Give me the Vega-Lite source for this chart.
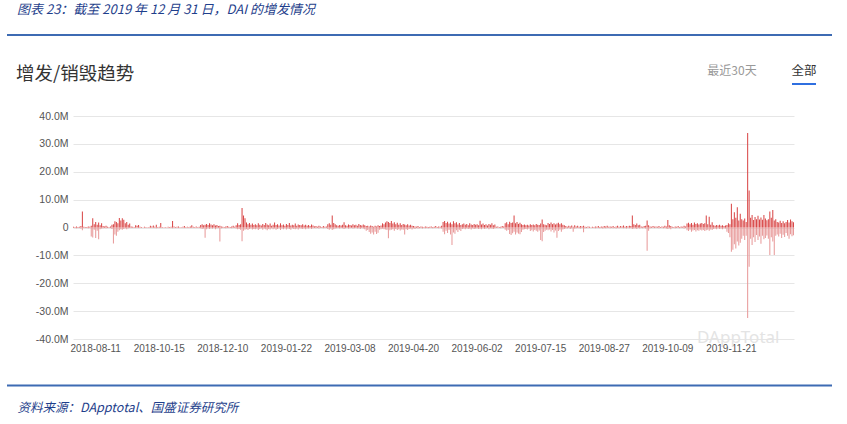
{
  "$schema": "https://vega.github.io/schema/vega-lite/v6.json",
  "autosize": {"type": "none"},
  "width": 721,
  "height": 223,
  "padding": {"left": 73, "top": 116, "right": 53, "bottom": 85},
  "background": "#ffffff",
  "config": {"view": {"stroke": null}},
  "datasets": {
    "dai": [
      {"d":"2018-07-20","m":0.3,"b":-0.2},{"d":"2018-07-22","m":0.2,"b":-0.1},{"d":"2018-07-23","m":0.4,"b":-0.3},{"d":"2018-07-25","m":0.2,"b":-0.2},{"d":"2018-07-26","m":0.3,"b":-0.1},{"d":"2018-07-27","m":0.5,"b":-0.4},{"d":"2018-07-29","m":5.7,"b":-1.0},{"d":"2018-07-30","m":0.3,"b":-0.2},{"d":"2018-07-31","m":0.2,"b":-0.1},{"d":"2018-08-01","m":0.2,"b":-0.2},{"d":"2018-08-03","m":0.4,"b":-0.3},{"d":"2018-08-05","m":0.3,"b":-0.1},{"d":"2018-08-07","m":0.6,"b":-3.2},{"d":"2018-08-08","m":3.3,"b":-3.6},{"d":"2018-08-09","m":1.2,"b":-0.8},
      {"d":"2018-08-11","m":2.0,"b":-3.8},{"d":"2018-08-12","m":1.0,"b":-1.2},{"d":"2018-08-13","m":1.8,"b":-4.2},{"d":"2018-08-15","m":0.8,"b":-0.6},{"d":"2018-08-16","m":1.5,"b":-0.4},{"d":"2018-08-18","m":0.5,"b":-0.3},{"d":"2018-08-19","m":0.4,"b":-0.2},{"d":"2018-08-21","m":0.6,"b":-0.3},{"d":"2018-08-22","m":0.3,"b":-0.2},{"d":"2018-08-24","m":0.2,"b":-0.1},{"d":"2018-08-25","m":0.4,"b":-0.2},{"d":"2018-08-27","m":1.0,"b":-0.5},{"d":"2018-08-28","m":1.2,"b":-5.7},{"d":"2018-08-30","m":2.2,"b":-2.5},
      {"d":"2018-09-01","m":2.0,"b":-3.0},{"d":"2018-09-02","m":1.5,"b":-1.5},{"d":"2018-09-04","m":3.4,"b":-1.0},{"d":"2018-09-05","m":2.5,"b":-0.6},{"d":"2018-09-07","m":3.3,"b":-0.8},{"d":"2018-09-08","m":2.8,"b":-0.5},{"d":"2018-09-10","m":1.5,"b":-0.3},{"d":"2018-09-11","m":2.0,"b":-0.6},{"d":"2018-09-13","m":1.0,"b":-0.3},{"d":"2018-09-14","m":1.4,"b":-0.2},{"d":"2018-09-16","m":0.4,"b":-0.2},{"d":"2018-09-17","m":0.3,"b":-0.1},{"d":"2018-09-19","m":0.2,"b":-0.1},{"d":"2018-09-20","m":0.8,"b":-0.2},{"d":"2018-09-22","m":0.6,"b":-0.1},{"d":"2018-09-23","m":0.9,"b":-0.2},{"d":"2018-09-25","m":0.3,"b":-0.1},{"d":"2018-09-26","m":0.2,"b":-0.1},{"d":"2018-09-28","m":0.1,"b":0},{"d":"2018-09-29","m":0.3,"b":-0.1},
      {"d":"2018-10-01","m":0.2,"b":-0.1},{"d":"2018-10-02","m":0.1,"b":0},{"d":"2018-10-04","m":0.2,"b":-0.1},{"d":"2018-10-05","m":0.6,"b":-0.2},{"d":"2018-10-07","m":0.4,"b":-0.1},{"d":"2018-10-08","m":0.7,"b":-0.2},{"d":"2018-10-10","m":0.3,"b":-0.1},{"d":"2018-10-11","m":1.0,"b":-0.3},{"d":"2018-10-13","m":0.2,"b":-0.1},
      {"d":"2018-10-15","m":0.3,"b":-0.1},{"d":"2018-10-16","m":1.6,"b":-0.2},{"d":"2018-10-17","m":0.2,"b":-0.1},{"d":"2018-10-18","m":0.1,"b":0},{"d":"2018-10-19","m":0.2,"b":-0.1},{"d":"2018-10-20","m":0.1,"b":0},{"d":"2018-10-22","m":0.3,"b":-0.1},{"d":"2018-10-23","m":0.2,"b":-0.1},{"d":"2018-10-24","m":0.3,"b":-0.1},{"d":"2018-10-25","m":2.3,"b":-0.3},{"d":"2018-10-26","m":0.4,"b":-0.1},{"d":"2018-10-28","m":0.2,"b":-0.1},{"d":"2018-10-29","m":0.3,"b":-0.1},{"d":"2018-10-30","m":0.4,"b":-0.2},
      {"d":"2018-11-01","m":0.2,"b":0},{"d":"2018-11-02","m":0.1,"b":-0.1},{"d":"2018-11-03","m":0.3,"b":-0.1},{"d":"2018-11-05","m":0.5,"b":-0.2},{"d":"2018-11-06","m":0.2,"b":-0.1},{"d":"2018-11-07","m":0.3,"b":0},{"d":"2018-11-08","m":0.2,"b":-0.1},{"d":"2018-11-09","m":0.4,"b":-0.2},{"d":"2018-11-11","m":0.8,"b":-0.2},{"d":"2018-11-12","m":0.3,"b":-0.1},{"d":"2018-11-13","m":0.2,"b":-0.1},{"d":"2018-11-15","m":0.4,"b":-0.1},{"d":"2018-11-16","m":0.2,"b":0},{"d":"2018-11-17","m":0.3,"b":-0.2},{"d":"2018-11-19","m":0.9,"b":-0.3},{"d":"2018-11-20","m":1.2,"b":-0.5},{"d":"2018-11-21","m":0.8,"b":-0.4},{"d":"2018-11-23","m":1.0,"b":-3.7},{"d":"2018-11-24","m":1.3,"b":-0.6},{"d":"2018-11-25","m":0.9,"b":-0.3},{"d":"2018-11-27","m":1.5,"b":-0.5},{"d":"2018-11-28","m":1.1,"b":-0.3},{"d":"2018-11-29","m":0.8,"b":-0.4},
      {"d":"2018-12-01","m":1.2,"b":-0.2},{"d":"2018-12-03","m":0.7,"b":-0.6},{"d":"2018-12-04","m":0.9,"b":-0.3},{"d":"2018-12-06","m":0.5,"b":-0.2},{"d":"2018-12-07","m":0.6,"b":-5.0},{"d":"2018-12-08","m":0.4,"b":-0.3},
      {"d":"2018-12-10","m":0.3,"b":-0.2},{"d":"2018-12-11","m":0.2,"b":-0.1},{"d":"2018-12-12","m":0.4,"b":-0.3},{"d":"2018-12-13","m":0.5,"b":-0.2},{"d":"2018-12-14","m":0.3,"b":-0.1},{"d":"2018-12-15","m":0.2,"b":-0.2},{"d":"2018-12-16","m":0.4,"b":-0.3},{"d":"2018-12-17","m":0.6,"b":-0.2},{"d":"2018-12-18","m":0.3,"b":-0.1},{"d":"2018-12-19","m":0.8,"b":-0.4},{"d":"2018-12-20","m":1.5,"b":-0.6},{"d":"2018-12-21","m":0.9,"b":-0.5},{"d":"2018-12-22","m":1.2,"b":-0.8},{"d":"2018-12-23","m":7.0,"b":-4.9},{"d":"2018-12-24","m":4.3,"b":-1.2},{"d":"2018-12-25","m":3.3,"b":-0.8},{"d":"2018-12-26","m":1.8,"b":-0.6},{"d":"2018-12-27","m":1.2,"b":-0.9},{"d":"2018-12-28","m":1.6,"b":-0.5},{"d":"2018-12-29","m":1.0,"b":-0.4},{"d":"2018-12-30","m":1.4,"b":-0.7},{"d":"2018-12-31","m":0.9,"b":-0.5},
      {"d":"2019-01-01","m":1.2,"b":-0.6},{"d":"2019-01-02","m":0.8,"b":-0.4},{"d":"2019-01-03","m":1.5,"b":-0.9},{"d":"2019-01-04","m":1.0,"b":-0.5},{"d":"2019-01-05","m":0.7,"b":-0.3},{"d":"2019-01-06","m":1.3,"b":-0.8},{"d":"2019-01-07","m":0.9,"b":-0.4},{"d":"2019-01-08","m":1.6,"b":-0.6},{"d":"2019-01-09","m":1.1,"b":-1.0},{"d":"2019-01-10","m":0.8,"b":-0.5},{"d":"2019-01-11","m":1.4,"b":-0.7},{"d":"2019-01-12","m":0.6,"b":-0.3},{"d":"2019-01-13","m":1.0,"b":-0.6},{"d":"2019-01-14","m":1.8,"b":-0.4},{"d":"2019-01-15","m":0.9,"b":-0.8},{"d":"2019-01-16","m":1.2,"b":-0.5},{"d":"2019-01-17","m":0.7,"b":-0.3},{"d":"2019-01-18","m":1.5,"b":-0.9},{"d":"2019-01-19","m":0.8,"b":-0.4},{"d":"2019-01-20","m":1.1,"b":-0.6},{"d":"2019-01-21","m":0.6,"b":-0.3},
      {"d":"2019-01-22","m":1.3,"b":-0.7},{"d":"2019-01-23","m":0.9,"b":-0.4},{"d":"2019-01-24","m":1.6,"b":-0.5},{"d":"2019-01-25","m":0.7,"b":-0.8},{"d":"2019-01-26","m":1.0,"b":-0.3},{"d":"2019-01-27","m":0.8,"b":-0.5},{"d":"2019-01-28","m":1.4,"b":-0.6},{"d":"2019-01-29","m":0.6,"b":-0.4},{"d":"2019-01-30","m":1.1,"b":-0.7},{"d":"2019-01-31","m":0.9,"b":-0.3},
      {"d":"2019-02-01","m":0.8,"b":-0.4},{"d":"2019-02-02","m":1.2,"b":-0.5},{"d":"2019-02-03","m":0.7,"b":-0.3},{"d":"2019-02-04","m":1.0,"b":-0.6},{"d":"2019-02-05","m":0.6,"b":-0.3},{"d":"2019-02-06","m":0.9,"b":-0.4},{"d":"2019-02-07","m":0.5,"b":-0.2},{"d":"2019-02-08","m":1.1,"b":-0.5},{"d":"2019-02-09","m":0.7,"b":-0.3},{"d":"2019-02-11","m":0.4,"b":-0.2},{"d":"2019-02-12","m":0.5,"b":-0.3},{"d":"2019-02-13","m":0.3,"b":-0.2},{"d":"2019-02-14","m":0.6,"b":-0.4},{"d":"2019-02-15","m":0.4,"b":-0.1},{"d":"2019-02-16","m":0.2,"b":-0.2},{"d":"2019-02-17","m":0.5,"b":-0.3},{"d":"2019-02-18","m":0.3,"b":-0.1},{"d":"2019-02-19","m":0.4,"b":-0.2},{"d":"2019-02-20","m":1.2,"b":-0.5},{"d":"2019-02-21","m":1.5,"b":-0.8},{"d":"2019-02-22","m":1.0,"b":-0.4},{"d":"2019-02-23","m":4.3,"b":-0.9},{"d":"2019-02-25","m":1.6,"b":-0.6},{"d":"2019-02-26","m":1.2,"b":-0.4},{"d":"2019-02-27","m":0.8,"b":-0.3},{"d":"2019-02-28","m":0.6,"b":-0.2},
      {"d":"2019-03-01","m":0.9,"b":-0.4},{"d":"2019-03-02","m":0.7,"b":-0.2},{"d":"2019-03-03","m":1.0,"b":-0.3},{"d":"2019-03-04","m":1.9,"b":-0.5},{"d":"2019-03-05","m":0.8,"b":-0.3},{"d":"2019-03-06","m":0.6,"b":-0.2},{"d":"2019-03-07","m":1.1,"b":-0.4},{"d":"2019-03-08","m":0.9,"b":-0.3},{"d":"2019-03-09","m":0.7,"b":-0.2},{"d":"2019-03-10","m":1.2,"b":-0.4},{"d":"2019-03-11","m":0.8,"b":-0.3},{"d":"2019-03-12","m":1.0,"b":-0.2},{"d":"2019-03-13","m":0.6,"b":-0.4},{"d":"2019-03-14","m":1.3,"b":-0.3},{"d":"2019-03-15","m":0.9,"b":-0.5},{"d":"2019-03-16","m":0.7,"b":-0.2},{"d":"2019-03-17","m":1.1,"b":-0.4},{"d":"2019-03-18","m":0.8,"b":-0.6},{"d":"2019-03-19","m":0.5,"b":-1.2},{"d":"2019-03-20","m":0.6,"b":-0.9},{"d":"2019-03-21","m":0.4,"b":-1.6},{"d":"2019-03-22","m":0.7,"b":-2.2},{"d":"2019-03-23","m":0.5,"b":-1.8},{"d":"2019-03-24","m":0.3,"b":-2.5},{"d":"2019-03-25","m":0.6,"b":-1.5},{"d":"2019-03-26","m":0.4,"b":-2.3},{"d":"2019-03-27","m":0.8,"b":-1.9},{"d":"2019-03-28","m":0.5,"b":-0.8},{"d":"2019-03-29","m":0.7,"b":-0.6},{"d":"2019-03-30","m":1.5,"b":-0.4},{"d":"2019-03-31","m":1.2,"b":-0.6},
      {"d":"2019-04-01","m":1.8,"b":-0.7},{"d":"2019-04-02","m":2.2,"b":-0.9},{"d":"2019-04-03","m":2.0,"b":-3.9},{"d":"2019-04-04","m":1.6,"b":-1.0},{"d":"2019-04-05","m":2.3,"b":-0.8},{"d":"2019-04-06","m":1.4,"b":-0.6},{"d":"2019-04-07","m":1.9,"b":-1.2},{"d":"2019-04-08","m":1.2,"b":-0.5},{"d":"2019-04-09","m":1.7,"b":-0.9},{"d":"2019-04-10","m":1.0,"b":-0.6},{"d":"2019-04-11","m":1.5,"b":-1.1},{"d":"2019-04-12","m":0.9,"b":-0.7},{"d":"2019-04-13","m":1.3,"b":-0.8},{"d":"2019-04-14","m":1.1,"b":-2.5},{"d":"2019-04-15","m":0.8,"b":-0.6},{"d":"2019-04-16","m":1.2,"b":-0.9},{"d":"2019-04-17","m":0.7,"b":-0.5},{"d":"2019-04-18","m":1.0,"b":-0.4},{"d":"2019-04-19","m":0.6,"b":-0.7},{"d":"2019-04-20","m":0.5,"b":-0.3},{"d":"2019-04-21","m":0.4,"b":-0.5},{"d":"2019-04-22","m":0.3,"b":-0.2},{"d":"2019-04-23","m":0.5,"b":-0.4},{"d":"2019-04-24","m":0.2,"b":-0.3},{"d":"2019-04-25","m":0.4,"b":-0.2},{"d":"2019-04-26","m":0.3,"b":-0.4},{"d":"2019-04-27","m":0.2,"b":-0.1},{"d":"2019-04-28","m":0.4,"b":-0.3},{"d":"2019-04-29","m":0.3,"b":-0.2},{"d":"2019-04-30","m":0.2,"b":-0.3},
      {"d":"2019-05-01","m":0.3,"b":-0.2},{"d":"2019-05-02","m":0.4,"b":-0.1},{"d":"2019-05-03","m":0.2,"b":-0.3},{"d":"2019-05-04","m":0.3,"b":-0.2},{"d":"2019-05-05","m":0.5,"b":-0.1},{"d":"2019-05-06","m":0.2,"b":-0.2},{"d":"2019-05-07","m":0.4,"b":-0.3},{"d":"2019-05-08","m":0.3,"b":-0.1},{"d":"2019-05-09","m":0.6,"b":-0.4},{"d":"2019-05-10","m":2.0,"b":-1.5},{"d":"2019-05-11","m":2.3,"b":-2.4},{"d":"2019-05-12","m":1.6,"b":-1.2},{"d":"2019-05-13","m":2.1,"b":-2.0},{"d":"2019-05-14","m":1.4,"b":-0.9},{"d":"2019-05-15","m":1.8,"b":-2.5},{"d":"2019-05-16","m":1.2,"b":-6.3},{"d":"2019-05-17","m":2.2,"b":-1.8},{"d":"2019-05-18","m":1.5,"b":-2.2},{"d":"2019-05-19","m":1.9,"b":-1.0},{"d":"2019-05-20","m":1.1,"b":-1.6},{"d":"2019-05-21","m":1.6,"b":-0.8},{"d":"2019-05-22","m":0.9,"b":-1.3},{"d":"2019-05-23","m":1.2,"b":-0.5},{"d":"2019-05-24","m":1.4,"b":-0.4},{"d":"2019-05-25","m":1.0,"b":-0.6},{"d":"2019-05-26","m":1.3,"b":-0.3},{"d":"2019-05-27","m":0.8,"b":-0.5},{"d":"2019-05-28","m":1.5,"b":-0.4},{"d":"2019-05-29","m":1.1,"b":-0.7},{"d":"2019-05-30","m":0.9,"b":-0.3},{"d":"2019-05-31","m":1.3,"b":-0.5},
      {"d":"2019-06-01","m":1.0,"b":-0.4},{"d":"2019-06-02","m":1.2,"b":-0.3},{"d":"2019-06-03","m":0.8,"b":-0.5},{"d":"2019-06-04","m":2.4,"b":-0.4},{"d":"2019-06-05","m":1.1,"b":-0.6},{"d":"2019-06-06","m":1.4,"b":-0.3},{"d":"2019-06-07","m":0.9,"b":-0.5},{"d":"2019-06-08","m":1.2,"b":-0.4},{"d":"2019-06-09","m":0.7,"b":-0.2},{"d":"2019-06-10","m":1.3,"b":-0.6},{"d":"2019-06-11","m":1.0,"b":-0.3},{"d":"2019-06-12","m":1.5,"b":-0.4},{"d":"2019-06-13","m":0.8,"b":-0.5},{"d":"2019-06-14","m":1.1,"b":-0.3},{"d":"2019-06-15","m":0.3,"b":-0.2},{"d":"2019-06-16","m":0.4,"b":-0.1},{"d":"2019-06-17","m":0.2,"b":-0.2},{"d":"2019-06-18","m":0.3,"b":-0.3},{"d":"2019-06-19","m":0.5,"b":-0.1},{"d":"2019-06-20","m":0.4,"b":-0.2},{"d":"2019-06-21","m":1.5,"b":-0.8},{"d":"2019-06-22","m":1.9,"b":-1.2},{"d":"2019-06-23","m":1.2,"b":-0.9},{"d":"2019-06-24","m":2.1,"b":-2.3},{"d":"2019-06-25","m":1.6,"b":-2.7},{"d":"2019-06-26","m":1.8,"b":-2.1},{"d":"2019-06-27","m":4.3,"b":-1.5},{"d":"2019-06-28","m":1.5,"b":-2.5},{"d":"2019-06-29","m":2.0,"b":-1.8},{"d":"2019-06-30","m":1.3,"b":-2.2},
      {"d":"2019-07-01","m":1.7,"b":-2.4},{"d":"2019-07-02","m":1.2,"b":-1.6},{"d":"2019-07-03","m":0.9,"b":-0.8},{"d":"2019-07-04","m":1.1,"b":-0.6},{"d":"2019-07-05","m":0.8,"b":-0.5},{"d":"2019-07-06","m":1.0,"b":-0.7},{"d":"2019-07-07","m":0.7,"b":-0.4},{"d":"2019-07-08","m":1.2,"b":-1.3},{"d":"2019-07-09","m":0.9,"b":-1.0},{"d":"2019-07-10","m":1.1,"b":-1.4},{"d":"2019-07-11","m":0.8,"b":-0.9},{"d":"2019-07-12","m":1.3,"b":-1.2},{"d":"2019-07-13","m":1.0,"b":-1.5},{"d":"2019-07-14","m":0.9,"b":-1.1},{"d":"2019-07-15","m":1.4,"b":-4.5},{"d":"2019-07-16","m":2.9,"b":-4.9},{"d":"2019-07-17","m":1.2,"b":-1.6},{"d":"2019-07-18","m":1.0,"b":-1.2},{"d":"2019-07-19","m":0.8,"b":-0.8},{"d":"2019-07-20","m":1.6,"b":-1.0},{"d":"2019-07-21","m":1.3,"b":-0.7},{"d":"2019-07-22","m":1.8,"b":-1.4},{"d":"2019-07-23","m":1.2,"b":-0.9},{"d":"2019-07-24","m":1.5,"b":-1.8},{"d":"2019-07-25","m":1.1,"b":-1.1},{"d":"2019-07-26","m":1.4,"b":-3.7},{"d":"2019-07-27","m":1.7,"b":-1.3},{"d":"2019-07-28","m":1.2,"b":-0.8},{"d":"2019-07-29","m":1.5,"b":-1.5},{"d":"2019-07-30","m":1.0,"b":-0.7},{"d":"2019-07-31","m":0.8,"b":-0.5},
      {"d":"2019-08-01","m":0.5,"b":-0.3},{"d":"2019-08-02","m":0.3,"b":-0.4},{"d":"2019-08-03","m":0.6,"b":-0.2},{"d":"2019-08-04","m":0.4,"b":-0.5},{"d":"2019-08-05","m":0.7,"b":-0.3},{"d":"2019-08-06","m":0.3,"b":-1.5},{"d":"2019-08-07","m":0.8,"b":-0.4},{"d":"2019-08-08","m":0.4,"b":-0.3},{"d":"2019-08-09","m":0.6,"b":-0.2},{"d":"2019-08-10","m":0.3,"b":-0.3},{"d":"2019-08-11","m":0.5,"b":-0.4},{"d":"2019-08-12","m":0.4,"b":-0.2},{"d":"2019-08-13","m":0.6,"b":-1.7},{"d":"2019-08-14","m":0.3,"b":-0.3},{"d":"2019-08-15","m":0.2,"b":-0.2},{"d":"2019-08-16","m":0.4,"b":-0.1},{"d":"2019-08-17","m":0.3,"b":-0.2},{"d":"2019-08-18","m":0.1,"b":-0.1},{"d":"2019-08-19","m":0.3,"b":-0.2},{"d":"2019-08-20","m":0.2,"b":-0.1},{"d":"2019-08-21","m":0.4,"b":-0.3},{"d":"2019-08-22","m":0.3,"b":-0.1},{"d":"2019-08-23","m":0.5,"b":-0.2},{"d":"2019-08-24","m":0.2,"b":-0.3},{"d":"2019-08-25","m":0.4,"b":-0.2},{"d":"2019-08-26","m":0.3,"b":-0.4},{"d":"2019-08-27","m":0.5,"b":-0.2},{"d":"2019-08-28","m":0.4,"b":-0.3},{"d":"2019-08-29","m":0.6,"b":-0.2},{"d":"2019-08-30","m":0.3,"b":-0.1},{"d":"2019-08-31","m":0.4,"b":-0.3},
      {"d":"2019-09-01","m":0.3,"b":-0.2},{"d":"2019-09-02","m":0.5,"b":-0.3},{"d":"2019-09-03","m":0.2,"b":-0.1},{"d":"2019-09-04","m":0.4,"b":-0.4},{"d":"2019-09-05","m":0.6,"b":-0.2},{"d":"2019-09-06","m":0.3,"b":-0.3},{"d":"2019-09-07","m":0.5,"b":-0.1},{"d":"2019-09-08","m":0.4,"b":-0.2},{"d":"2019-09-09","m":0.7,"b":-0.3},{"d":"2019-09-10","m":0.3,"b":-0.2},{"d":"2019-09-11","m":0.5,"b":-0.4},{"d":"2019-09-12","m":0.4,"b":-0.1},{"d":"2019-09-13","m":0.6,"b":-0.3},{"d":"2019-09-14","m":0.5,"b":-0.2},{"d":"2019-09-15","m":4.3,"b":-0.5},{"d":"2019-09-16","m":1.2,"b":-0.4},{"d":"2019-09-17","m":0.9,"b":-0.3},{"d":"2019-09-18","m":1.4,"b":-0.5},{"d":"2019-09-19","m":0.8,"b":-0.2},{"d":"2019-09-20","m":1.0,"b":-0.4},{"d":"2019-09-21","m":0.4,"b":-0.2},{"d":"2019-09-22","m":0.3,"b":-0.3},{"d":"2019-09-23","m":0.5,"b":-0.2},{"d":"2019-09-24","m":0.6,"b":-0.4},{"d":"2019-09-25","m":2.5,"b":-8.3},{"d":"2019-09-26","m":0.8,"b":-1.2},{"d":"2019-09-27","m":0.4,"b":-0.3},{"d":"2019-09-28","m":0.3,"b":-0.2},{"d":"2019-09-29","m":0.5,"b":-0.1},{"d":"2019-09-30","m":0.3,"b":-0.2},
      {"d":"2019-10-01","m":0.4,"b":-0.2},{"d":"2019-10-02","m":0.3,"b":-0.1},{"d":"2019-10-03","m":0.5,"b":-0.3},{"d":"2019-10-04","m":0.2,"b":-0.2},{"d":"2019-10-05","m":0.4,"b":-0.1},{"d":"2019-10-06","m":0.3,"b":-0.3},{"d":"2019-10-07","m":0.6,"b":-0.2},{"d":"2019-10-08","m":0.4,"b":-0.4},{"d":"2019-10-09","m":2.7,"b":-0.5},{"d":"2019-10-10","m":0.8,"b":-0.3},{"d":"2019-10-11","m":0.5,"b":-0.6},{"d":"2019-10-12","m":0.3,"b":-0.2},{"d":"2019-10-13","m":0.2,"b":-0.1},{"d":"2019-10-14","m":0.4,"b":-0.3},{"d":"2019-10-15","m":0.3,"b":-0.2},{"d":"2019-10-16","m":0.5,"b":-0.1},{"d":"2019-10-17","m":0.2,"b":-0.3},{"d":"2019-10-18","m":0.4,"b":-0.2},{"d":"2019-10-19","m":0.3,"b":-0.1},{"d":"2019-10-20","m":0.6,"b":-0.4},{"d":"2019-10-21","m":0.4,"b":-0.2},{"d":"2019-10-22","m":1.4,"b":-1.0},{"d":"2019-10-23","m":1.7,"b":-1.3},{"d":"2019-10-24","m":1.2,"b":-0.8},{"d":"2019-10-25","m":1.6,"b":-1.5},{"d":"2019-10-26","m":1.0,"b":-1.1},{"d":"2019-10-27","m":1.8,"b":-0.9},{"d":"2019-10-28","m":1.3,"b":-1.4},{"d":"2019-10-29","m":1.5,"b":-1.0},{"d":"2019-10-30","m":1.1,"b":-1.2},{"d":"2019-10-31","m":1.4,"b":-0.8},
      {"d":"2019-11-01","m":1.6,"b":-1.1},{"d":"2019-11-02","m":1.3,"b":-0.9},{"d":"2019-11-03","m":1.5,"b":-1.3},{"d":"2019-11-04","m":4.3,"b":-1.0},{"d":"2019-11-05","m":1.2,"b":-0.8},{"d":"2019-11-06","m":3.9,"b":-1.2},{"d":"2019-11-07","m":1.0,"b":-0.7},{"d":"2019-11-08","m":1.9,"b":-0.9},{"d":"2019-11-09","m":0.8,"b":-0.5},{"d":"2019-11-10","m":0.6,"b":-0.4},{"d":"2019-11-11","m":0.9,"b":-0.6},{"d":"2019-11-12","m":0.7,"b":-0.3},{"d":"2019-11-13","m":1.0,"b":-0.5},{"d":"2019-11-14","m":0.6,"b":-0.4},{"d":"2019-11-15","m":0.8,"b":-0.6},{"d":"2019-11-16","m":0.5,"b":-0.3},{"d":"2019-11-17","m":0.7,"b":-0.4},{"d":"2019-11-18","m":0.9,"b":-1.5},{"d":"2019-11-19","m":1.5,"b":-2.0},{"d":"2019-11-20","m":1.2,"b":-3.5},{"d":"2019-11-21","m":8.5,"b":-8.7},{"d":"2019-11-22","m":3.0,"b":-8.0},{"d":"2019-11-23","m":5.5,"b":-6.0},{"d":"2019-11-24","m":3.5,"b":-7.5},{"d":"2019-11-25","m":7.3,"b":-5.0},{"d":"2019-11-26","m":2.5,"b":-6.5},{"d":"2019-11-27","m":4.9,"b":-5.5},{"d":"2019-11-28","m":3.0,"b":-4.0},{"d":"2019-11-29","m":2.5,"b":-3.0},{"d":"2019-11-30","m":3.2,"b":-4.5},
      {"d":"2019-12-01","m":2.0,"b":-3.0},{"d":"2019-12-02","m":33.9,"b":-32.5},{"d":"2019-12-03","m":13.3,"b":-14.1},{"d":"2019-12-04","m":3.5,"b":-4.0},{"d":"2019-12-05","m":4.5,"b":-6.3},{"d":"2019-12-06","m":2.7,"b":-3.5},{"d":"2019-12-07","m":3.8,"b":-5.2},{"d":"2019-12-08","m":3.0,"b":-2.7},{"d":"2019-12-09","m":4.2,"b":-4.5},{"d":"2019-12-10","m":2.9,"b":-3.2},{"d":"2019-12-11","m":3.6,"b":-5.8},{"d":"2019-12-12","m":2.8,"b":-3.0},{"d":"2019-12-13","m":4.5,"b":-4.2},{"d":"2019-12-14","m":3.2,"b":-3.8},{"d":"2019-12-15","m":2.6,"b":-2.9},{"d":"2019-12-16","m":3.0,"b":-4.0},{"d":"2019-12-17","m":5.7,"b":-9.9},{"d":"2019-12-18","m":3.5,"b":-3.5},{"d":"2019-12-19","m":6.3,"b":-5.0},{"d":"2019-12-20","m":2.5,"b":-9.9},{"d":"2019-12-21","m":3.0,"b":-3.0},{"d":"2019-12-22","m":2.0,"b":-2.5},{"d":"2019-12-23","m":1.8,"b":-3.2},{"d":"2019-12-24","m":2.4,"b":-2.2},{"d":"2019-12-25","m":1.6,"b":-3.8},{"d":"2019-12-26","m":2.2,"b":-2.6},{"d":"2019-12-27","m":1.5,"b":-3.4},{"d":"2019-12-28","m":2.0,"b":-2.0},{"d":"2019-12-29","m":2.7,"b":-3.0},{"d":"2019-12-30","m":1.8,"b":-4.0},{"d":"2019-12-31","m":2.9,"b":-2.4},
      {"d":"2020-01-01","m":2.2,"b":-3.1},{"d":"2020-01-02","m":1.9,"b":-2.8}
    ]
  },
  "layer": [
    {
      "data": {"values": [{"t": "DAppTotal"}]},
      "mark": {"type": "text", "align": "left", "baseline": "middle", "font": "Noto Sans", "fontSize": 17, "color": "#e4e4e4"},
      "encoding": {"text": {"field": "t"}, "x": {"value": 624}, "y": {"value": 222}}
    },
    {
      "data": {"name": "dai"},
      "mark": {"type": "bar", "color": "#e89a9a"},
      "encoding": {
        "x": {
          "field": "d", "type": "ordinal",
          "scale": {"paddingInner": 0.3, "paddingOuter": 0},
          "axis": {
            "values": ["2018-08-11","2018-10-15","2018-12-10","2019-01-22","2019-03-08","2019-04-20","2019-06-02","2019-07-15","2019-08-27","2019-10-09","2019-11-21"],
            "labelAngle": 0, "domain": false, "ticks": false, "grid": false, "labelOverlap": false,
            "labelPadding": 4, "labelFont": "Liberation Sans", "labelFontSize": 10, "labelColor": "#555555",
            "title": "资料来源：DApptotal、国盛证券研究所",
            "titleFont": "Noto Sans CJK SC", "titleFontSize": 12.5, "titleFontStyle": "italic", "titleFontWeight": "normal",
            "titleColor": "#1f3f8c", "titleAnchor": "start", "titleAlign": "left", "titleBaseline": "middle",
            "titleX": -56, "titleY": 68
          }
        },
        "y": {
          "field": "b", "type": "quantitative",
          "scale": {"domain": [-40, 40], "nice": false},
          "axis": {
            "values": [-40, -30, -20, -10, 0, 10, 20, 30, 40],
            "tickCount": 9,
            "labelOverlap": false,
            "labelExpr": "datum.value == 0 ? '0' : (datum.value < 0 ? '-' : '') + format(abs(datum.value), '.1f') + 'M'",
            "domain": false, "ticks": false, "grid": true, "gridColor": "#e6e6e6",
            "labelPadding": 5, "labelFont": "Liberation Sans", "labelFontSize": 10.5, "labelColor": "#555555",
            "title": null
          }
        }
      }
    },
    {
      "data": {"name": "dai"},
      "mark": {"type": "bar", "color": "#d94848"},
      "encoding": {
        "x": {"field": "d", "type": "ordinal"},
        "y": {
          "field": "m", "type": "quantitative",
          "axis": {
            "values": [-40, -30, -20, -10, 0, 10, 20, 30, 40],
            "tickCount": 9,
            "labelOverlap": false,
            "labelExpr": "datum.value == 0 ? '0' : (datum.value < 0 ? '-' : '') + format(abs(datum.value), '.1f') + 'M'",
            "domain": false, "ticks": false, "grid": true, "gridColor": "#e6e6e6",
            "labelPadding": 5, "labelFont": "Liberation Sans", "labelFontSize": 10.5, "labelColor": "#555555",
            "title": null
          }
        }
      }
    },
    {
      "data": {"values": [{"t": "图表 23：截至 2019 年 12 月 31 日，DAI 的增发情况"}]},
      "mark": {"type": "text", "align": "left", "baseline": "middle", "font": "Noto Sans CJK SC", "fontSize": 13, "fontStyle": "italic", "color": "#1f3f8c"},
      "encoding": {"text": {"field": "t"}, "x": {"value": -56}, "y": {"value": -106}}
    },
    {
      "data": {"values": [{"t": "增发/销毁趋势"}]},
      "mark": {"type": "text", "align": "left", "baseline": "middle", "font": "Noto Sans CJK SC", "fontSize": 18.5, "color": "#333333"},
      "encoding": {"text": {"field": "t"}, "x": {"value": -57}, "y": {"value": -42}}
    },
    {
      "data": {"values": [{"t": "最近30天"}]},
      "mark": {"type": "text", "align": "center", "baseline": "middle", "font": "Noto Sans CJK SC", "fontSize": 12, "color": "#999999"},
      "encoding": {"text": {"field": "t"}, "x": {"value": 659}, "y": {"value": -45}}
    },
    {
      "data": {"values": [{"t": "全部"}]},
      "mark": {"type": "text", "align": "center", "baseline": "middle", "font": "Noto Sans CJK SC", "fontSize": 12.5, "color": "#333333"},
      "encoding": {"text": {"field": "t"}, "x": {"value": 731}, "y": {"value": -45}}
    },
    {
      "data": {"values": [{}]},
      "mark": {"type": "rule", "color": "#2f6fe0", "strokeWidth": 2},
      "encoding": {"x": {"value": 719}, "x2": {"value": 743}, "y": {"value": -32}}
    },
    {
      "data": {"values": [{}]},
      "mark": {"type": "rule", "color": "#3d6bb3", "strokeWidth": 2},
      "encoding": {"x": {"value": -66}, "x2": {"value": 759}, "y": {"value": -81}}
    },
    {
      "data": {"values": [{}]},
      "mark": {"type": "rule", "color": "#3d6bb3", "strokeWidth": 2},
      "encoding": {"x": {"value": -66}, "x2": {"value": 759}, "y": {"value": 269.5}}
    }
  ]
}
